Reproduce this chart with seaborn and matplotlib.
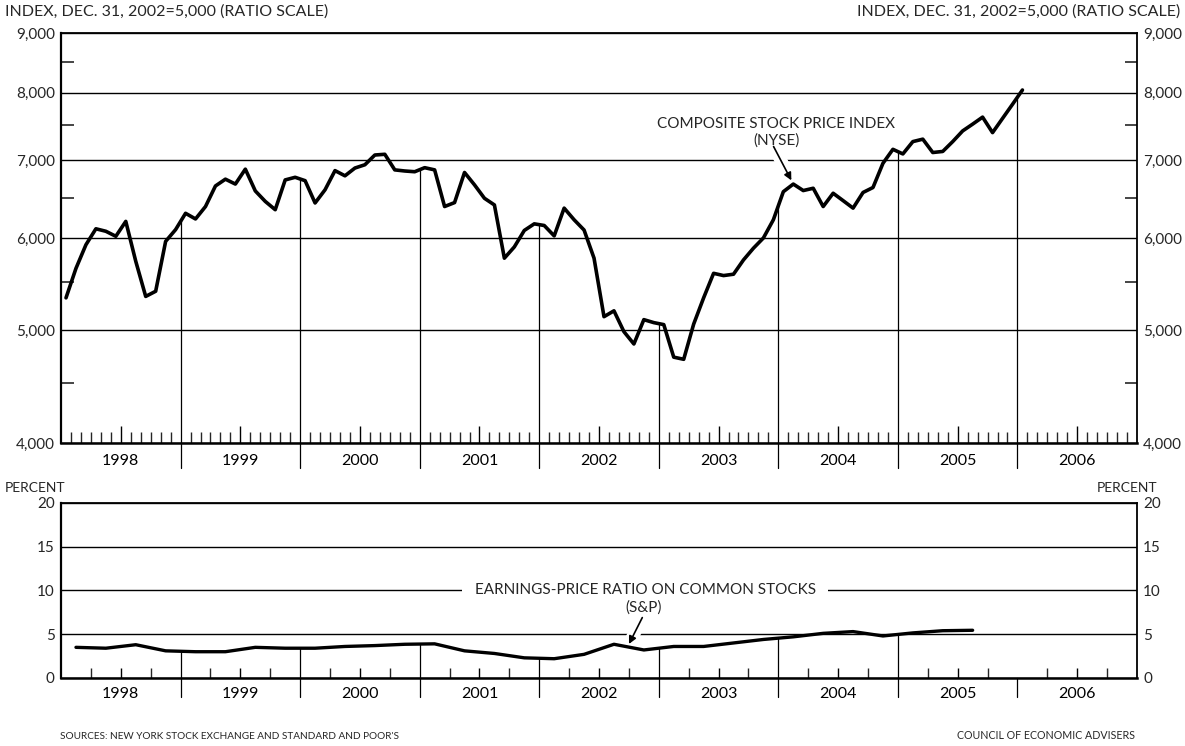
import numpy as np
import pandas as pd
import matplotlib.pyplot as plt
from matplotlib.ticker import FixedLocator, FuncFormatter, NullFormatter
import seaborn as sns

# NYSE composite stock price index, monthly Jan 1998 - Jan 2006 (Dec. 31, 2002 = 5,000)
nyse = [
    5330, 5650, 5920, 6110, 6080, 6020, 6200, 5730, 5345, 5400, 5960, 6100,  # 1998
    6300, 6230, 6385, 6650, 6740, 6675, 6875, 6585, 6450, 6345, 6730, 6765,  # 1999
    6720, 6430, 6600, 6855, 6785, 6890, 6935, 7070, 7080, 6865, 6850, 6840,  # 2000
    6895, 6865, 6385, 6435, 6830, 6665, 6490, 6405, 5765, 5895, 6090, 6170,  # 2001
    6150, 6025, 6365, 6220, 6095, 5765, 5135, 5195, 4985, 4865, 5105, 5075,  # 2002
    5055, 4740, 4720, 5060, 5330, 5595, 5570, 5585, 5745, 5880, 6000, 6220,  # 2003
    6575, 6675, 6590, 6620, 6385, 6555, 6460, 6365, 6565, 6630, 6955, 7150,  # 2004
    7085, 7260, 7295, 7105, 7120, 7260, 7415, 7515, 7620, 7390, 7600, 7815,  # 2005
    8040,                                                                    # 2006
]
# S&P earnings-price ratio on common stocks, quarterly 1998 Q1 - 2005 Q3 (percent)
ep_ratio = [
    3.5, 3.4, 3.8, 3.1,
    3.0, 3.0, 3.5, 3.4,
    3.4, 3.6, 3.7, 3.85,
    3.9, 3.1, 2.8, 2.3,
    2.2, 2.7, 3.85, 3.2,
    3.6, 3.6, 4.0, 4.4,
    4.7, 5.1, 5.3, 4.8,
    5.15, 5.4, 5.45,
]
years = list(range(1998, 2007))
index_ticks = [4000, 5000, 6000, 7000, 8000, 9000]
index_minor = [4500, 5500, 6500, 7500, 8500]
pct_ticks = [0, 5, 10, 15, 20]

sns.set_style('white')
plt.rcParams['font.family'] = ['Lato', 'DejaVu Sans']

nyse_df = pd.DataFrame({'t': 1998 + (np.arange(len(nyse)) + 0.5) / 12, 'value': nyse})
ep_df = pd.DataFrame({'t': 1998 + (np.arange(len(ep_ratio)) + 0.5) / 4, 'value': ep_ratio})

fig = plt.figure(figsize=(11.85, 7.46), dpi=100)
ax1 = fig.add_axes([0.0515, 0.4062, 0.908, 0.5496])
ax2 = fig.add_axes([0.0515, 0.0912, 0.908, 0.2346])

sns.lineplot(data=nyse_df, x='t', y='value', ax=ax1, color='black', lw=2.6, zorder=5)
sns.lineplot(data=ep_df, x='t', y='value', ax=ax2, color='black', lw=2.4, zorder=5)


def style_axes(ax, sub, sub_len, major_len, pad, sep_depth, df, ymin, log=False):
    ax.set_xlabel('')
    ax.set_ylabel('')
    ax.set_xlim(years[0], years[-1] + 1)
    ax.xaxis.set_major_locator(FixedLocator([y + 0.5 for y in years]))
    ax.set_xticklabels([str(y) for y in years])
    minor = [y + k / sub for y in years for k in range(1, sub) if 2 * k != sub]
    ax.xaxis.set_minor_locator(FixedLocator(minor))
    ax.tick_params(axis='x', which='both', bottom=True, top=False)
    ax.tick_params(axis='x', which='major', direction='in', length=major_len,
                   width=1, pad=pad, labelsize=11.5, colors='black')
    ax.tick_params(axis='x', which='minor', direction='in', length=sub_len, width=1)
    for s in ax.spines.values():
        s.set_color('black')
        s.set_linewidth(1.3)
    ax.spines['bottom'].set_linewidth(1.8)
    ax.spines['left'].set_linewidth(1.6)
    # year separators under the axis
    for b in years[1:]:
        ax.plot([b, b], [sep_depth, 0], transform=ax.get_xaxis_transform(),
                color='black', lw=0.9, clip_on=False)
    # drop lines from the axis up to the series
    inside = [b for b in years[1:] if b <= df['t'].max()]
    if log:
        tops = np.exp(np.interp(inside, df['t'], np.log(df['value'])))
    else:
        tops = np.interp(inside, df['t'], df['value'])
    ax.vlines(inside, ymin, tops, color='black', lw=0.9, zorder=2)


def pointer(ax, tip, tail, shrink):
    # white band under the arrow breaks the grid line it crosses
    ax.annotate('', xy=tip, xytext=tail,
                arrowprops=dict(arrowstyle='-', color='white', lw=9, shrinkA=0, shrinkB=shrink + 4),
                zorder=2.5)
    ax.annotate('', xy=tip, xytext=tail,
                arrowprops=dict(arrowstyle='-|>', color='black', lw=1.2, shrinkA=0, shrinkB=shrink,
                                mutation_scale=11),
                zorder=3)


# top panel: stock price index, ratio scale
ax1.set_yscale('log')
ax1.set_ylim(index_ticks[0], index_ticks[-1])
ax1.yaxis.set_major_locator(FixedLocator(index_ticks))
ax1.yaxis.set_major_formatter(FuncFormatter(lambda v, p: f'{v:,.0f}'))
ax1.yaxis.set_minor_locator(FixedLocator(index_minor))
ax1.yaxis.set_minor_formatter(NullFormatter())
ax1.tick_params(axis='y', which='major', length=0, pad=4.5, labelsize=11,
                left=True, right=True, labelleft=True, labelright=True)
ax1.tick_params(axis='y', which='minor', direction='in', length=9, width=1.2,
                left=True, right=True)
ax1.grid(axis='y', which='major', color='black', lw=1.0)
ax1.grid(axis='x', visible=False)
style_axes(ax1, 12, 8, 12.5, 8, -0.06, nyse_df, index_ticks[0], log=True)

ax1.text(2003.983, 7390, 'COMPOSITE STOCK PRICE INDEX\n(NYSE)', ha='center', va='center',
         fontsize=11, linespacing=1.2, zorder=6)
pointer(ax1, (nyse_df['t'][73], nyse[73]), (2003.96, 7190), 3)

# bottom panel: earnings-price ratio
ax2.set_ylim(pct_ticks[0], pct_ticks[-1])
ax2.yaxis.set_major_locator(FixedLocator(pct_ticks))
ax2.tick_params(axis='y', which='major', length=0, pad=4.5, labelsize=11,
                left=True, right=True, labelleft=True, labelright=True)
ax2.grid(axis='y', which='major', color='black', lw=1.0)
ax2.grid(axis='x', visible=False)
style_axes(ax2, 4, 7.5, 7.5, 6.5, -0.11, ep_df, pct_ticks[0])

ax2.text(2002.887, 10, 'EARNINGS-PRICE RATIO ON COMMON STOCKS', ha='center', va='center',
         fontsize=11, zorder=6,
         bbox=dict(facecolor='white', edgecolor='none', pad=9))
ax2.text(2002.87, 8.0, '(S&P)', ha='center', va='center', fontsize=11, zorder=6)
pointer(ax2, (2002.74, 3.6), (2002.862, 6.9), 2)

# panel headings and footer
fig.text(0.004, 0.984, 'INDEX, DEC. 31, 2002=5,000 (RATIO SCALE)', ha='left', va='center', fontsize=11.5)
fig.text(0.996, 0.984, 'INDEX, DEC. 31, 2002=5,000 (RATIO SCALE)', ha='right', va='center', fontsize=11.5)
fig.text(0.004, 0.346, 'PERCENT', ha='left', va='center', fontsize=10)
fig.text(0.977, 0.346, 'PERCENT', ha='right', va='center', fontsize=10)
fig.text(0.051, 0.007, "SOURCES: NEW YORK STOCK EXCHANGE AND STANDARD AND POOR'S",
         ha='left', va='bottom', fontsize=7.2)
fig.text(0.958, 0.007, 'COUNCIL OF ECONOMIC ADVISERS', ha='right', va='bottom', fontsize=7.7)

fig.savefig('out.png', dpi=100)
